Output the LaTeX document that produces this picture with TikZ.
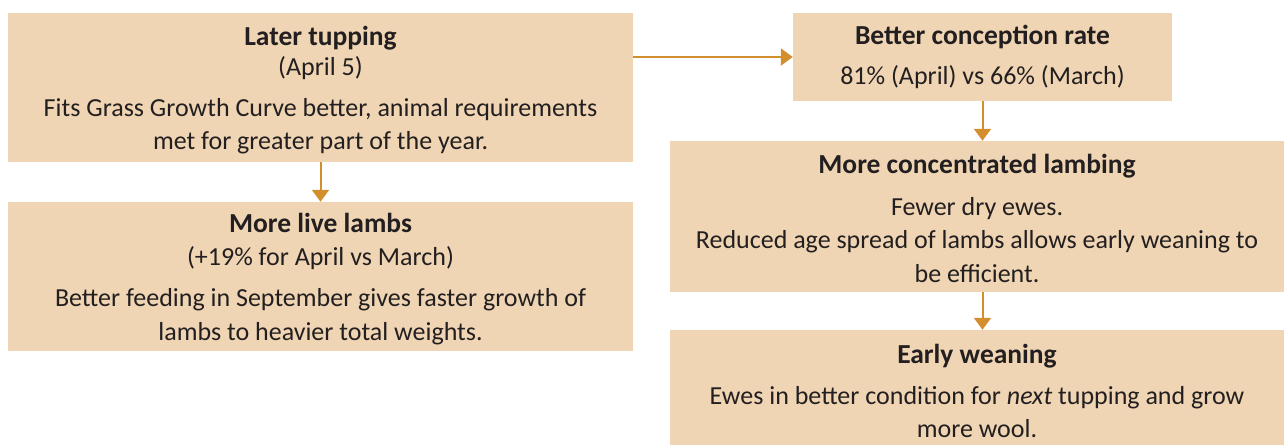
\documentclass[tikz,border=0pt]{standalone}
\usepackage{fontspec}
\setmainfont{Carlito}
\usetikzlibrary{arrows.meta}
\definecolor{boxfill}{HTML}{EFD5B3}
\definecolor{arrowcol}{HTML}{D38F2E}
\definecolor{txt}{HTML}{231F20}
\newcommand{\ttl}[1]{{\fontsize{27.5}{33}\selectfont\bfseries #1}}
\begin{document}
\begin{tikzpicture}[x=1pt,y=-1pt,
  box/.style={rectangle, fill=boxfill, draw=none, inner sep=0pt},
  boxtext/.style={align=center, inner sep=0pt, text=txt, font=\fontsize{26}{33.5}\selectfont},
  flow/.style={draw=arrowcol, line width=2pt, -{Triangle[width=17pt,length=12pt]}, arrowcol}]
\useasboundingbox (0,0) rectangle (1284,445);
\node[box, minimum width=625pt, minimum height=149pt] (A) at (320.5,87.5) {};
\node[box, minimum width=625pt, minimum height=149pt] (B) at (320.5,276.5) {};
\node[box, minimum width=379pt, minimum height=88pt] (C) at (982.5,57) {};
\node[box, minimum width=614pt, minimum height=151pt] (D) at (977,216.5) {};
\node[box, minimum width=614pt, minimum height=115pt] (E) at (977,387.5) {};
\node[boxtext] (At) at ([yshift=-2.5pt]A.center)
  {\ttl{Later tupping}\\[-3pt](April 5)\\[7pt]Fits Grass Growth Curve better, animal requirements\\met for greater part of the year.};
\node[boxtext] (Bt) at ([yshift=-2.5pt]B.center)
  {\ttl{More live lambs}\\[-1pt](+19\% for April vs March)\\[8pt]Better feeding in September gives faster growth of\\lambs to heavier total weights.};
\node[boxtext] (Ct) at (C.center)
  {\ttl{Better conception rate}\\[6pt]81\% (April) vs 66\% (March)};
\node[boxtext] (Dt) at ([yshift=-2pt]D.center)
  {\ttl{More concentrated lambing}\\[8pt]Fewer dry ewes.\\Reduced age spread of lambs allows early weaning to\\be efficient.};
\node[boxtext] (Et) at ([yshift=-3.5pt]E.center)
  {\ttl{Early weaning}\\[7pt]Ewes in better condition for \textit{next} tupping and grow\\more wool.};
\draw[flow] (A.south) -- (B.north);
\draw[flow] (A.east |- C.west) -- (C.west);
\draw[flow] (C.south) -- (C.south |- D.north);
\draw[flow] (C.south |- D.south) -- (C.south |- E.north);
\end{tikzpicture}
\end{document}
